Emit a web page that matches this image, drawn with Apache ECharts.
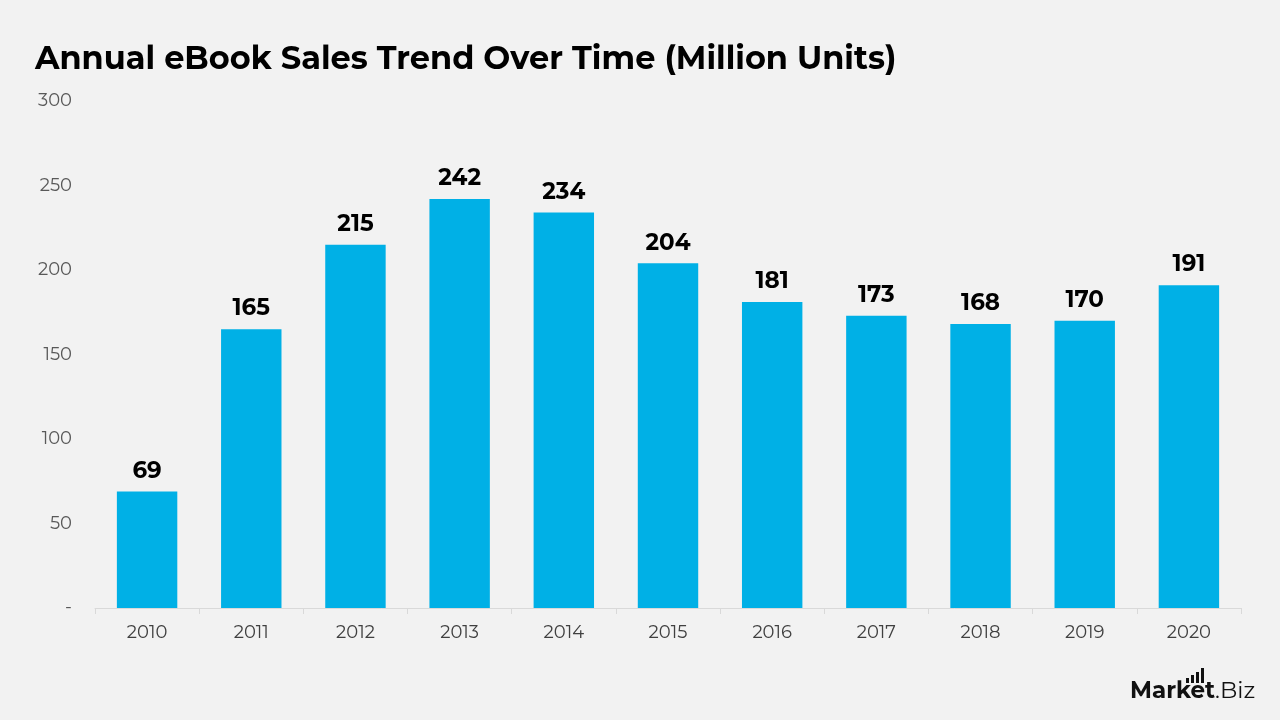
<!DOCTYPE html>
<html>
<head>
<meta charset="utf-8">
<script src="https://cdn.jsdelivr.net/npm/echarts@6/dist/echarts.min.js"></script>
<style>
  html, body { margin: 0; padding: 0; background: #f2f2f2; }
  #chart { width: 1280px; height: 720px; }
</style>
</head>
<body>
<div id="chart"></div>
<script>
// data
var years = ['2010', '2011', '2012', '2013', '2014', '2015', '2016', '2017', '2018', '2019', '2020'];
var sales = [69, 165, 215, 242, 234, 204, 181, 173, 168, 170, 191];

var font = 'Montserrat, "Open Sans", "Noto Sans", sans-serif';

var myChart = echarts.init(document.getElementById('chart'));
var options = {
    backgroundColor: '#f2f2f2',
    textStyle: { fontFamily: font },
    title: {
        text: 'Annual eBook Sales Trend Over Time (Million Units)',
        left: 30,
        top: 39,
        textStyle: { fontSize: 32, fontWeight: 'bold', color: '#000', fontFamily: font }
    },
    grid: { left: 95, right: 39, top: 101, bottom: 112 },
    xAxis: {
        type: 'category',
        data: years,
        axisLine: { lineStyle: { color: '#d9d9d9' } },
        axisTick: { show: true, length: 6, alignWithLabel: false, lineStyle: { color: '#d9d9d9' } },
        axisLabel: { color: '#404040', fontSize: 18, margin: 16 }
    },
    yAxis: {
        type: 'value',
        min: 0,
        max: 300,
        interval: 50,
        splitLine: { show: false },
        axisLine: { show: false },
        axisTick: { show: false },
        axisLabel: {
            color: '#595959',
            fontSize: 18,
            margin: 23,
            formatter: function (v) { return v === 0 ? '-' : v; }
        }
    },
    series: [{
        type: 'bar',
        data: sales,
        barWidth: '58%',
        itemStyle: { color: '#00b0e6' },
        label: {
            show: true,
            position: 'top',
            distance: 9,
            color: '#000',
            fontSize: 23,
            fontWeight: 'bold',
            fontFamily: font
        }
    }],
    graphic: [
        { type: 'rect', shape: { x: 1186, y: 678, width: 3, height: 5 }, style: { fill: '#111' } },
        { type: 'rect', shape: { x: 1191, y: 675, width: 3, height: 8 }, style: { fill: '#111' } },
        { type: 'rect', shape: { x: 1196, y: 672, width: 3, height: 11 }, style: { fill: '#111' } },
        { type: 'rect', shape: { x: 1201, y: 668, width: 3, height: 15 }, style: { fill: '#111' } },
        {
            type: 'text', left: 1130, top: 680,
            style: { text: 'Market', fontSize: 23, fontWeight: 'bold', fill: '#111', fontFamily: font }
        },
        {
            type: 'text', left: 1215, top: 680,
            style: { text: '.Biz', fontSize: 23, fontWeight: 'normal', fill: '#111', fontFamily: font }
        }
    ]
};
myChart.setOption(options, true);
</script>
</body>
</html>
